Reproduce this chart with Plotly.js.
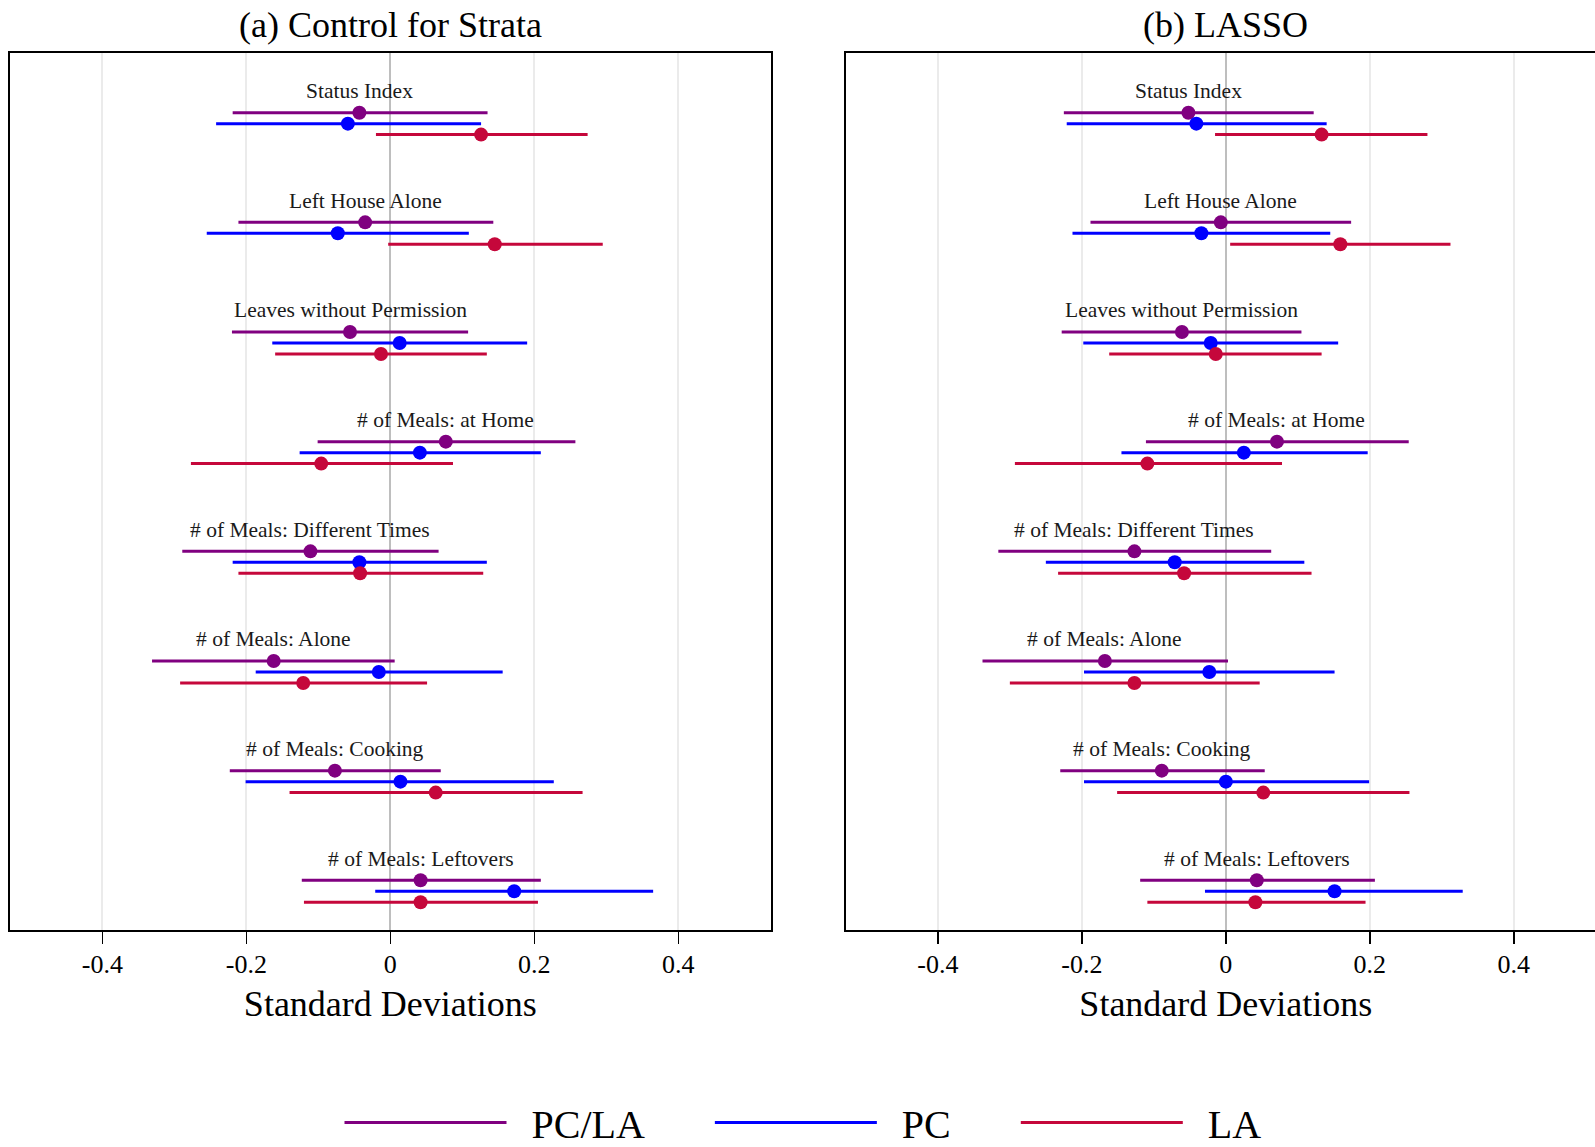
<!DOCTYPE html>
<html><head><meta charset="utf-8">
<script src="https://cdn.plot.ly/plotly-3.0.1.min.js"></script>
<style>html,body{margin:0;padding:0;overflow:hidden;background:#fff}</style>
</head><body><div id="chart" style="width:1606px;height:1147px"></div>
<script>
// ---- data ----
var categories = ["Status Index", "Left House Alone", "Leaves without Permission",
  "# of Meals: at Home", "# of Meals: Different Times", "# of Meals: Alone",
  "# of Meals: Cooking", "# of Meals: Leftovers"];
var seriesNames = ["PC/LA", "PC", "LA"];
var seriesColors = ["#800080", "#0000FF", "#C5073B"];
var panelTitles = ["(a) Control for Strata", "(b) LASSO"];
var tickVals = [-0.4, -0.2, 0, 0.2, 0.4];
var tickText = ["-0.4", "-0.2", "0", "0.2", "0.4"];
var axisTitle = "Standard Deviations";

// Panel (a) Control for Strata
var pcla_est_a = [-0.043, -0.035, -0.056, 0.077, -0.111, -0.162, -0.077, 0.042];
var pcla_lo_a  = [-0.219, -0.211, -0.220, -0.101, -0.289, -0.331, -0.223, -0.123];
var pcla_hi_a  = [0.135, 0.143, 0.108, 0.257, 0.067, 0.006, 0.070, 0.209];
var pc_est_a   = [-0.059, -0.073, 0.013, 0.041, -0.043, -0.016, 0.014, 0.172];
var pc_lo_a    = [-0.242, -0.255, -0.164, -0.126, -0.219, -0.187, -0.201, -0.021];
var pc_hi_a    = [0.126, 0.109, 0.190, 0.209, 0.134, 0.156, 0.227, 0.365];
var la_est_a   = [0.126, 0.145, -0.013, -0.096, -0.042, -0.121, 0.063, 0.042];
var la_lo_a    = [-0.020, -0.003, -0.160, -0.277, -0.211, -0.292, -0.140, -0.120];
var la_hi_a    = [0.274, 0.295, 0.134, 0.087, 0.129, 0.051, 0.267, 0.205];

// Panel (b) LASSO
var pcla_est_b = [-0.052, -0.007, -0.061, 0.071, -0.127, -0.168, -0.089, 0.043];
var pcla_lo_b  = [-0.225, -0.188, -0.228, -0.111, -0.316, -0.338, -0.230, -0.119];
var pcla_hi_b  = [0.122, 0.174, 0.105, 0.254, 0.063, 0.003, 0.054, 0.207];
var pc_est_b   = [-0.041, -0.034, -0.021, 0.025, -0.071, -0.023, 0.000, 0.151];
var pc_lo_b    = [-0.221, -0.213, -0.198, -0.145, -0.250, -0.197, -0.197, -0.029];
var pc_hi_b    = [0.140, 0.145, 0.156, 0.197, 0.109, 0.151, 0.199, 0.329];
var la_est_b   = [0.133, 0.159, -0.014, -0.109, -0.058, -0.127, 0.052, 0.041];
var la_lo_b    = [-0.015, 0.006, -0.162, -0.293, -0.233, -0.300, -0.151, -0.109];
var la_hi_b    = [0.280, 0.312, 0.133, 0.078, 0.119, 0.047, 0.255, 0.194];

// ---- build ----
var FONT = "Liberation Serif, DejaVu Serif, serif";
var NB = "\u00A0";
function pad(k) { var s = ""; for (var i = 0; i < k; i++) s += NB; return s; }
var panels = [
  {xa: "x", ya: "y", est: [pcla_est_a, pc_est_a, la_est_a], lo: [pcla_lo_a, pc_lo_a, la_lo_a], hi: [pcla_hi_a, pc_hi_a, la_hi_a]},
  {xa: "x2", ya: "y2", est: [pcla_est_b, pc_est_b, la_est_b], lo: [pcla_lo_b, pc_lo_b, la_lo_b], hi: [pcla_hi_b, pc_hi_b, la_hi_b]}
];
var n = categories.length;
function rowY(i, s) { return (n - i) - 0.1 * s; }

var traces = [];
var annotations = [];
panels.forEach(function (p, pi) {
  for (var s = 0; s < 3; s++) {
    var lx = [], ly = [], my = [];
    for (var i = 0; i < n; i++) {
      var yy = rowY(i, s);
      lx.push(p.lo[s][i], p.hi[s][i], null);
      ly.push(yy, yy, null);
      my.push(yy);
    }
    var legName = pad(2) + seriesNames[s] + (s < 2 ? pad(6) : "");
    traces.push({type: "scatter", mode: "lines", x: lx, y: ly, xaxis: p.xa, yaxis: p.ya,
      name: legName, legendgroup: seriesNames[s], showlegend: pi === 0,
      line: {color: seriesColors[s], width: 3}, hoverinfo: "skip"});
    traces.push({type: "scatter", mode: "markers", x: p.est[s], y: my, xaxis: p.xa, yaxis: p.ya,
      name: seriesNames[s], legendgroup: seriesNames[s], showlegend: false,
      marker: {color: seriesColors[s], size: 14}});
  }
  for (var i = 0; i < n; i++) {
    annotations.push({xref: p.xa, yref: p.ya, x: p.est[0][i], y: rowY(i, 0) + 0.07,
      text: categories[i], showarrow: false, xanchor: "center", yanchor: "bottom",
      font: {family: FONT, size: 21.5, color: "#1a1a1a"}});
  }
});

var W = 1606, H = 1147;
var xr = [-0.528, 0.528];
function xaxisDef(dom, anchor) {
  return {domain: dom, anchor: anchor, range: xr, tickvals: tickVals, ticktext: tickText,
    showgrid: true, gridcolor: "#EBEBEB", gridwidth: 2,
    zeroline: true, zerolinecolor: "#BEBEBE", zerolinewidth: 2,
    showline: true, mirror: true, linecolor: "#000", linewidth: 2,
    ticks: "outside", ticklen: 12, tickwidth: 1.5, tickcolor: "#000",
    ticklabelstandoff: -2,
    tickfont: {family: FONT, size: 26, color: "#000"},
    title: {text: axisTitle, font: {family: FONT, size: 36, color: "#000"}, standoff: 13},
    fixedrange: true};
}
function yaxisDef(dom, anchor) {
  return {domain: dom, anchor: anchor, range: [0.547, 8.547], showgrid: false, zeroline: false,
    showticklabels: false, ticks: "", showline: true, mirror: true, linecolor: "#000", linewidth: 2,
    fixedrange: true};
}
var ydom = [1 - 930 / H, 1 - 52.7 / H];
var xdomA = [10.2 / W, 770.5 / W];
var xdomB = [845.7 / W, 1.0];

annotations.push({xref: "paper", yref: "paper", x: (xdomA[0] + xdomA[1]) / 2, y: 1 - 25 / H,
  text: panelTitles[0], showarrow: false, xanchor: "center", yanchor: "middle",
  font: {family: FONT, size: 36, color: "#000"}});
annotations.push({xref: "paper", yref: "paper", x: (xdomB[0] + xdomB[1]) / 2, y: 1 - 25 / H,
  text: panelTitles[1], showarrow: false, xanchor: "center", yanchor: "middle",
  font: {family: FONT, size: 36, color: "#000"}});

var layout = {
  width: W, height: H,
  margin: {l: 0, r: 0, t: 0, b: 0, autoexpand: false},
  paper_bgcolor: "#fff", plot_bgcolor: "#fff",
  xaxis: xaxisDef(xdomA, "y"),
  yaxis: yaxisDef(ydom, "x"),
  xaxis2: xaxisDef(xdomB, "y2"),
  yaxis2: yaxisDef(ydom, "x2"),
  showlegend: true,
  legend: {orientation: "h", x: 0.5, xanchor: "center", y: -8 / H, yanchor: "bottom",
    itemwidth: 162, font: {family: FONT, size: 40, color: "#000"}, itemclick: false, itemdoubleclick: false},
  annotations: annotations,
  hovermode: false
};
Plotly.newPlot("chart", traces, layout, {displayModeBar: false, staticPlot: true});
</script></body></html>
